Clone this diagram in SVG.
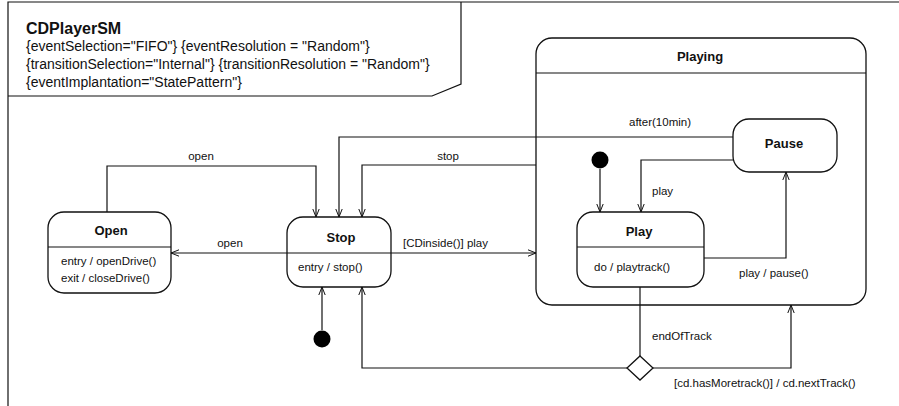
<svg xmlns="http://www.w3.org/2000/svg" width="899" height="406" viewBox="0 0 899 406">
<style>
text{font-family:"Liberation Sans",Arial,sans-serif;fill:#111}
.t{font-size:16px;font-weight:bold}
.h{font-size:14px}
.n{font-size:13px;font-weight:bold;text-anchor:middle}
.l{font-size:11.5px}
.m{text-anchor:middle}
.s{fill:#fff;stroke:#111;stroke-width:1.3}
.d{stroke:#111;stroke-width:1.2;fill:none}
.e{fill:none;stroke:#111;stroke-width:1.2;marker-end:url(#a)}
.i{fill:#000}
</style>
<defs>
<marker id="a" markerUnits="userSpaceOnUse" markerWidth="10" markerHeight="8" refX="9" refY="4" orient="auto">
<path d="M1,0.8 L9,4 L1,7.2" fill="none" stroke="#111" stroke-width="1"/>
</marker>
</defs>
<rect width="899" height="406" fill="#fff"/>
<g id="frame">
<path d="M8,406 V2 H899" class="d" stroke-width="1.5"/>
<path d="M8,96 H432 L461,84 V2" class="d"/>
<text x="26" y="34" class="t">CDPlayerSM</text>
<text x="26" y="51" class="h">{eventSelection="FIFO"} {eventResolution = "Random"}</text>
<text x="26" y="69" class="h">{transitionSelection="Internal"} {transitionResolution = "Random"}</text>
<text x="26" y="87" class="h">{eventImplantation="StatePattern"}</text>
</g>
<g id="Playing">
<rect x="536" y="38" width="330" height="267" rx="16" class="s"/>
<line x1="536" y1="73" x2="866" y2="73" class="d"/>
<text x="700" y="61" class="n">Playing</text>
</g>
<g id="Open">
<rect x="48" y="212" width="123" height="81" rx="16" class="s"/>
<line x1="48" y1="247" x2="171" y2="247" class="d"/>
<text x="111" y="235" class="n">Open</text>
<text x="61" y="265" class="l">entry / openDrive()</text>
<text x="61" y="282" class="l">exit / closeDrive()</text>
</g>
<g id="Stop">
<rect x="287" y="217" width="104" height="70" rx="16" class="s"/>
<line x1="287" y1="253" x2="391" y2="253" class="d"/>
<text x="341" y="241.5" class="n">Stop</text>
<text x="298" y="271" class="l">entry / stop()</text>
</g>
<g id="Pause">
<rect x="733" y="119" width="104" height="53" rx="16" class="s"/>
<text x="784" y="147.5" class="n">Pause</text>
</g>
<g id="Play">
<rect x="577" y="212" width="127" height="75" rx="16" class="s"/>
<line x1="577" y1="247" x2="704" y2="247" class="d"/>
<text x="639" y="235.5" class="n">Play</text>
<text x="594" y="271" class="l">do / playtrack()</text>
</g>
<g id="initStop"><circle cx="322" cy="339" r="8.5" class="i"/></g>
<g id="initPlay"><circle cx="600" cy="160" r="8.5" class="i"/></g>
<g id="choice"><path d="M640,356 L653,368 L640,380 L627,368 Z" class="s" stroke-width="1.2"/></g>
<g id="connectors">
<path d="M107,212 V166 H316 V217" class="e"/>
<path d="M287,253 H171" class="e"/>
<path d="M391,253 H536" class="e"/>
<path d="M733,137 H339 V217" class="e"/>
<path d="M536,165 H362 V217" class="e"/>
<path d="M322,330 V287" class="e"/>
<path d="M600,169 V212" class="e"/>
<path d="M733,160 H641 V212" class="e"/>
<path d="M704,258 H786 V172" class="e"/>
<path d="M640,287 V356" class="d"/>
<path d="M627,368 H362 V287" class="e"/>
<path d="M653,368 H791 V305" class="e"/>
<text x="201" y="160" class="l m">open</text>
<text x="230" y="247" class="l m">open</text>
<text x="448" y="160" class="l m">stop</text>
<text x="403" y="247" class="l">[CDinside()] play</text>
<text x="660" y="126" class="l m">after(10min)</text>
<text x="652" y="195" class="l">play</text>
<text x="739" y="277" class="l">play / pause()</text>
<text x="652" y="340" class="l">endOfTrack</text>
<text x="674" y="387" class="l">[cd.hasMoretrack()] / cd.nextTrack()</text>
</g>
</svg>
